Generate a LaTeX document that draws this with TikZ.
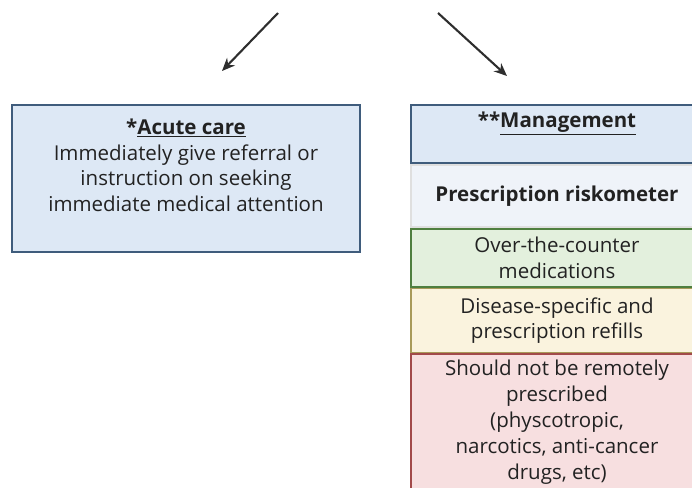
\documentclass[tikz,border=0pt]{standalone}
\usepackage{fontspec}
\setmainfont{Open Sans}
\usetikzlibrary{positioning,arrows.meta}

\definecolor{azulclaro}{HTML}{DDE8F5}
\definecolor{azulborde}{HTML}{3F5C7C}
\definecolor{riesgoclaro}{HTML}{EFF3F9}
\definecolor{verdeclaro}{HTML}{E3F0DD}
\definecolor{verdeborde}{HTML}{4F7F3F}
\definecolor{amarilloclaro}{HTML}{FAF3DE}
\definecolor{amarilloborde}{HTML}{A89A5A}
\definecolor{rojoclaro}{HTML}{F7DFE0}
\definecolor{rojoborde}{HTML}{A24A4A}
\definecolor{texto}{HTML}{222222}

\begin{document}
\begin{tikzpicture}[x=1pt, y=-1pt,
    caja/.style={draw, line width=1.8pt, inner sep=0pt, text=texto,
      align=center, font=\fontsize{20.5}{25.5}\selectfont},
    etiqueta/.style={inner sep=0pt, text=texto, align=center,
      font=\fontsize{20.5}{25.5}\selectfont},
    flecha/.style={-{Stealth[length=13pt, width=11pt]}, line width=2.1pt,
      draw=black!82}]

    % Marco
    \path[use as bounding box, clip] (0, 0) rectangle (692, 487);

    % Caja izquierda
    \node[caja, fill=azulclaro, draw=azulborde, minimum width=348pt,
      minimum height=147pt] (agudo) at (186, 178.5) {};
    \node[etiqueta, anchor=north] (agudotxt) at ([yshift=-15pt]agudo.north)
      {\textbf{*\underline{Acute care}}\\Immediately give referral or\\
       instruction on seeking\\immediate medical attention};

    % Columna derecha
    \node[caja, fill=azulclaro, draw=azulborde, minimum width=292pt,
      minimum height=58pt] (gestion) at (557, 134) {};
    \node[etiqueta, anchor=north] (gestiontxt) at ([yshift=-8pt]gestion.north)
      {\textbf{**\underline{Management}}};
    \node[caja, fill=riesgoclaro, draw=gray!25, minimum width=292pt,
      minimum height=62pt, below=0pt of gestion] (riesgo)
      {\textbf{Prescription riskometer}};
    \node[caja, fill=verdeclaro, draw=verdeborde, minimum width=292pt,
      minimum height=58pt, below=0pt of riesgo] (venta)
      {Over-the-counter\\medications};
    \node[caja, fill=amarilloclaro, draw=amarilloborde, minimum width=292pt,
      minimum height=64pt, below=0pt of venta] (receta)
      {Disease-specific and\\prescription refills};
    \node[caja, fill=rojoclaro, draw=rojoborde, minimum width=292pt,
      minimum height=163pt, below=0pt of receta] (prohibido) {};
    \node[etiqueta, anchor=north, font=\fontsize{20.5}{26.2}\selectfont]
      (prohibidotxt) at ([yshift=-6pt]prohibido.north)
      {Should not be remotely\\prescribed\\(physcotropic,\\narcotics, anti-cancer\\drugs, etc)};

    % Flechas
    \coordinate (izqini) at (278, 13);
    \coordinate (izqfin) at (222, 71);
    \coordinate (derini) at (438, 13);
    \coordinate (derfin) at (507, 76);
    \draw[flecha] (izqini) -- (izqfin);
    \draw[flecha] (derini) -- (derfin);

\end{tikzpicture}
\end{document}
